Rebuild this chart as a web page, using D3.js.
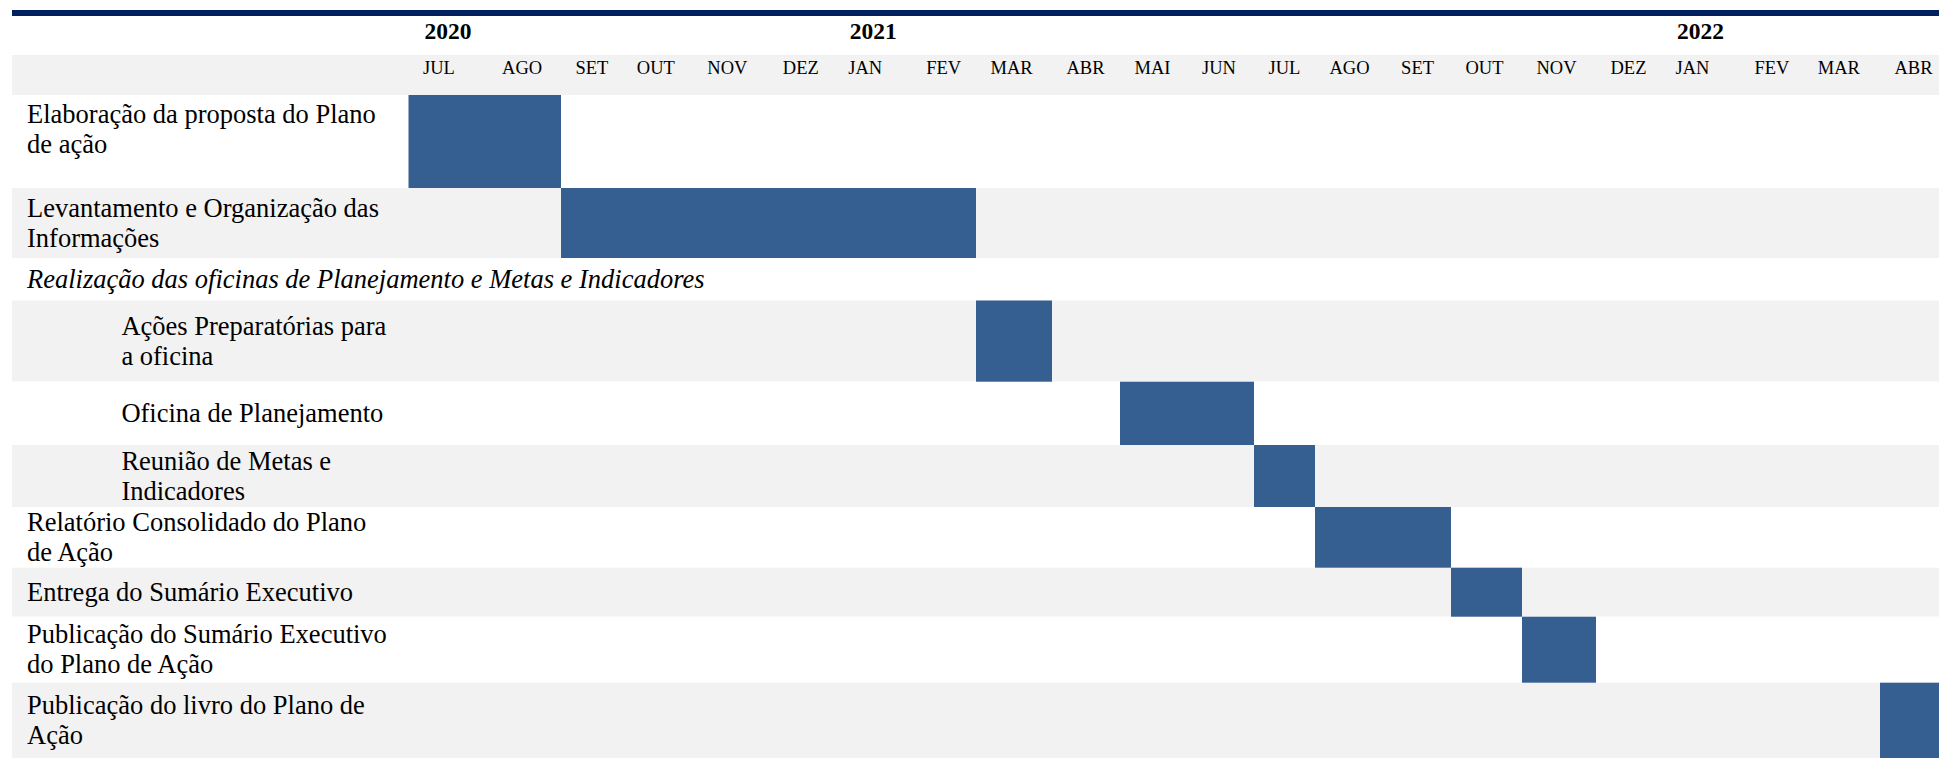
<!DOCTYPE html>
<html>
  <head>
    <title>Cronograma do Plano de Ação</title>
    <style>
    body {
        margin: 0px;
        overflow: hidden;
        background: #fff;
    }

    text {
        font-family: "Liberation Serif", "Times New Roman", serif;
        fill: #000;
    }

    .year-label {
        font-size: 23.5px;
        font-weight: bold;
    }

    .month-label {
        font-size: 18.5px;
    }

    .task-label {
        font-size: 26.5px;
    }

    .group-label {
        font-size: 26.5px;
        font-style: italic;
    }
    </style>
    <script src="https://d3js.org/d3.v7.min.js"></script>
  </head>
  <body>

    <svg width="1939" height="758"></svg>

    <script>
        // months shown in the header (Jul 2020 .. Abr 2022)
        const months = ['JUL', 'AGO', 'SET', 'OUT', 'NOV', 'DEZ',
                        'JAN', 'FEV', 'MAR', 'ABR', 'MAI', 'JUN',
                        'JUL', 'AGO', 'SET', 'OUT', 'NOV', 'DEZ',
                        'JAN', 'FEV', 'MAR', 'ABR'];

        // year label sits over the month index where the year starts
        const years = [
            {label: '2020', month: 0},
            {label: '2021', month: 6},
            {label: '2022', month: 18}
        ];

        // activities: start / end are month indexes (inclusive)
        const tasks = [
            {lines: ['Elaboração da proposta do Plano', 'de ação', ''], level: 0, start: 0, end: 1},
            {lines: ['Levantamento e Organização das', 'Informações'], level: 0, start: 2, end: 7},
            {lines: ['Realização das oficinas de Planejamento e Metas e Indicadores'], level: 'group', start: null, end: null},
            {lines: ['Ações Preparatórias para', 'a oficina'], level: 1, start: 8, end: 8},
            {lines: ['Oficina de Planejamento'], level: 1, start: 10, end: 11},
            {lines: ['Reunião de Metas e', 'Indicadores'], level: 1, start: 12, end: 12},
            {lines: ['Relatório Consolidado do Plano', 'de Ação'], level: 0, start: 13, end: 14},
            {lines: ['Entrega do Sumário Executivo'], level: 0, start: 15, end: 15},
            {lines: ['Publicação do Sumário Executivo', 'do Plano de Ação'], level: 0, start: 16, end: 16},
            {lines: ['Publicação do livro do Plano de', 'Ação'], level: 0, start: 21, end: 21}
        ];

        const svg = d3.select('svg');
        const width = +svg.attr('width');
        const height = +svg.attr('height');

        // layout of the table (column edges are uneven, like the original doc)
        const colEdges = [408.5, 487.6, 561, 622.3, 692.8, 768.3, 833.8, 911.7,
                          976, 1052, 1120, 1187.5, 1254, 1315, 1386.6, 1451,
                          1522, 1596, 1661, 1740, 1803.3, 1880, 1952];
        const rowHeights = [93, 70, 42.5, 81.2, 63.3, 62, 60.7, 49, 66, 75.3];
        const tableLeft = 12;
        const monthRowTop = 55;
        const bodyTop = 95;
        const cellPad = 14.5;
        const lineHeight = 30;
        const indent = {0: 27, 1: 121.4, group: 27};

        const zebra = '#f2f2f2';
        const barColor = '#365f91';

        const xScale = d3.scaleLinear()
            .domain(d3.range(colEdges.length))
            .range(colEdges);

        const rowTops = [bodyTop, ...d3.cumsum(rowHeights).map(d => bodyTop + d)];

        // top rule
        svg.append('rect')
            .attr('x', tableLeft)
            .attr('y', 10)
            .attr('width', width - tableLeft)
            .attr('height', 6)
            .attr('fill', '#002060');

        // month header band
        svg.append('rect')
            .attr('x', tableLeft)
            .attr('y', monthRowTop)
            .attr('width', width - tableLeft)
            .attr('height', bodyTop - monthRowTop)
            .attr('fill', zebra);

        svg.selectAll('.year-label').data(years)
            .enter().append('text')
            .attr('class', 'year-label')
            .attr('x', d => xScale(d.month) + cellPad + 1.5)
            .attr('y', 38.5)
            .text(d => d.label);

        svg.selectAll('.month-label').data(months)
            .enter().append('text')
            .attr('class', 'month-label')
            .attr('x', (d, i) => xScale(i) + cellPad)
            .attr('y', 73.5)
            .text(d => d);

        // row backgrounds
        svg.selectAll('.row-bg').data(tasks)
            .enter().append('rect')
            .attr('class', 'row-bg')
            .attr('x', tableLeft)
            .attr('y', (d, i) => rowTops[i])
            .attr('width', width - tableLeft)
            .attr('height', (d, i) => rowHeights[i])
            .attr('fill', (d, i) => i % 2 ? zebra : '#ffffff');

        // bars
        svg.selectAll('.bar').data(tasks.filter(d => d.start !== null))
            .enter().append('rect')
            .attr('class', 'bar')
            .attr('x', d => xScale(d.start))
            .attr('y', d => rowTops[tasks.indexOf(d)])
            .attr('width', d => xScale(d.end + 1) - xScale(d.start))
            .attr('height', d => rowHeights[tasks.indexOf(d)])
            .attr('fill', barColor);

        // labels, vertically centred in their row
        const labels = svg.selectAll('.label').data(tasks)
            .enter().append('text')
            .attr('class', d => d.level === 'group' ? 'group-label' : 'task-label');

        labels.each(function (d, i) {
            const mid = rowTops[i] + rowHeights[i] / 2 + 8.7;
            const n = d.lines.length;
            d3.select(this).selectAll('tspan').data(d.lines)
                .enter().append('tspan')
                .attr('x', indent[d.level])
                .attr('y', (l, j) => mid + (j - (n - 1) / 2) * lineHeight + (n > 2 ? 2.5 : 0))
                .text(l => l);
        });
    </script>
  </body>
</html>
